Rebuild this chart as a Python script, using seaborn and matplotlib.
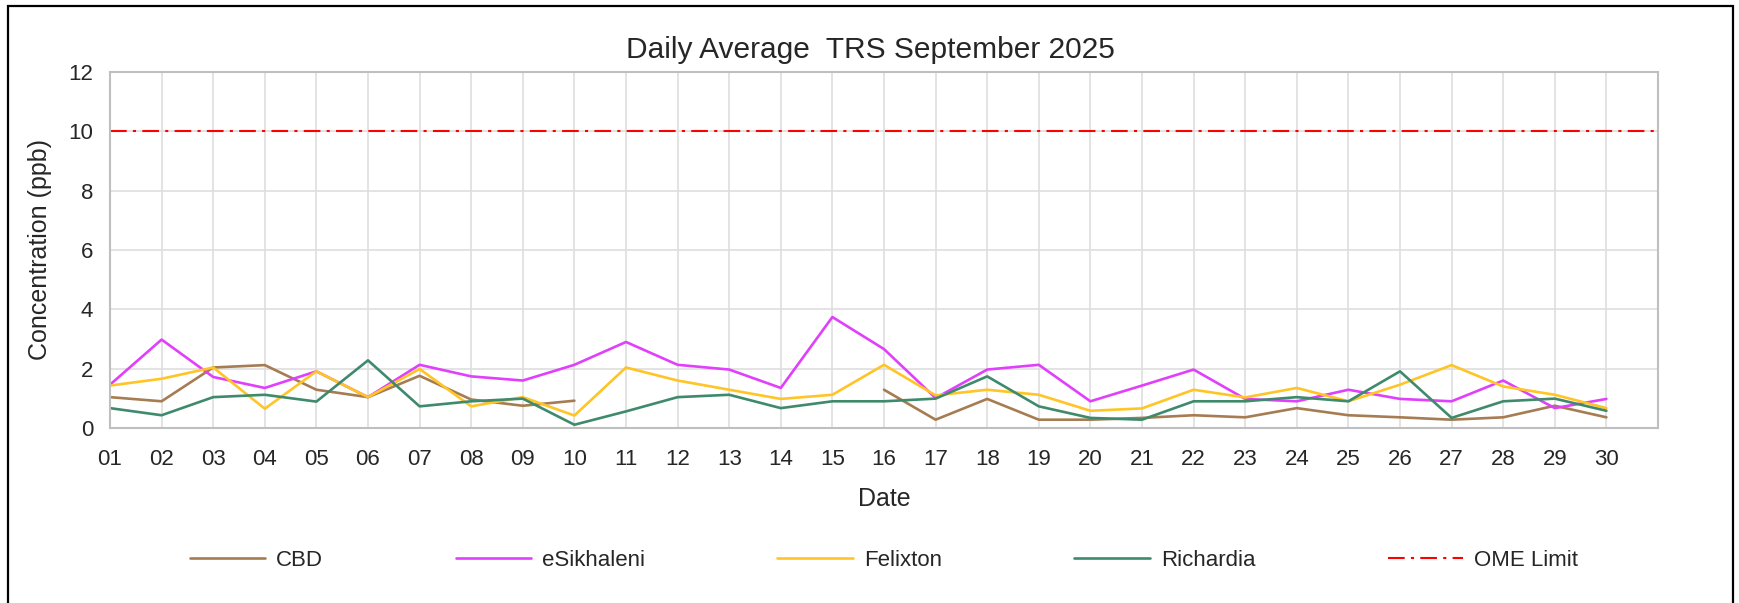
import numpy as np
import pandas as pd
import matplotlib
matplotlib.use("Agg")
import matplotlib.pyplot as plt
import seaborn as sns
from matplotlib.patches import Rectangle

days = [f"{d:02d}" for d in range(1, 31)]
cbd = [1.04, 0.90, 2.04, 2.12, 1.29, 1.04, 1.76, 0.96, 0.75, 0.92,
       np.nan, np.nan, np.nan, np.nan, np.nan, 1.29, 0.28, 0.98, 0.28, 0.28,
       0.34, 0.43, 0.36, 0.67, 0.43, 0.36, 0.28, 0.36, 0.75, 0.36]
esikhaleni = [1.46, 2.98, 1.72, 1.35, 1.91, 1.04, 2.13, 1.74, 1.60, 2.13,
              2.90, 2.13, 1.97, 1.35, 3.74, 2.66, 1.01, 1.97, 2.13, 0.90,
              1.43, 1.97, 0.98, 0.90, 1.29, 0.98, 0.90, 1.60, 0.67, 0.98]
felixton = [1.43, 1.66, 2.04, 0.65, 1.91, 1.04, 1.99, 0.73, 1.04, 0.42,
            2.04, 1.60, 1.29, 0.98, 1.12, 2.13, 1.10, 1.29, 1.12, 0.58,
            0.66, 1.29, 1.03, 1.35, 0.90, 1.46, 2.12, 1.40, 1.12, 0.67]
richardia = [0.67, 0.43, 1.04, 1.12, 0.89, 2.28, 0.73, 0.90, 0.99, 0.11,
             0.56, 1.04, 1.12, 0.67, 0.90, 0.90, 0.99, 1.74, 0.73, 0.34,
             0.28, 0.90, 0.90, 1.04, 0.90, 1.91, 0.34, 0.90, 0.99, 0.58]
ome_limit = 10
series_names = ["CBD", "eSikhaleni", "Felixton", "Richardia"]
colors = {"CBD": "#A67C52", "eSikhaleni": "#E040FB", "Felixton": "#FFC425",
          "Richardia": "#3F8A6C"}

sns.set_theme(style="white")
plt.rcParams["font.family"] = ["Liberation Sans", "DejaVu Sans"]
text_color = "#262626"

W, H = 1739, 603
fig = plt.figure(figsize=(W / 100, H / 100), dpi=100)
fig.patch.set_facecolor("white")
L, R, T, B = 110, 1658, 72, 428
ax = fig.add_axes([L / W, 1 - B / H, (R - L) / W, (B - T) / H])

xs = list(range(1, 31))
for name, vals in zip(series_names, [cbd, esikhaleni, felixton, richardia]):
    df = pd.DataFrame({"x": xs, "y": vals})
    # break the line where data is missing (segment id increments at gaps)
    df["seg"] = df["y"].isna().cumsum()
    df = df.dropna()
    sns.lineplot(data=df, x="x", y="y", units="seg", ax=ax,
                 color=colors[name], lw=1.9, estimator=None, sort=False)
    ax.plot([], [], color=colors[name], lw=1.9, label=name)
ax.axhline(ome_limit, color="#FF0000", lw=1.5, dashes=(8, 3, 1.5, 3),
           label="OME Limit")

ax.set_xlim(1, 31)
ax.set_ylim(0, 12)
ax.set_xticks(xs)
ax.set_xticklabels(days)
ax.set_yticks(range(0, 13, 2))
ax.grid(True, color="#DEDEDE", lw=1.2)
ax.set_axisbelow(True)
for s in ax.spines.values():
    s.set_color("#BFBFBF")
    s.set_linewidth(1.5)
ax.tick_params(axis="both", length=0, labelsize=16, colors=text_color)
ax.tick_params(axis="x", pad=15)
ax.tick_params(axis="y", pad=12)
ax.set_xlabel("Date", fontsize=18, color=text_color, labelpad=12)
ax.set_ylabel("Concentration (ppb)", fontsize=18, color=text_color, labelpad=12)
ax.set_title("Daily Average  TRS September 2025", fontsize=21.5,
             color=text_color, pad=10, x=(870 - L) / (R - L))

leg = ax.legend(loc="center", bbox_to_anchor=(0.5, (B - 560) / (B - T)),
                ncol=5, frameon=False, fontsize=16, handlelength=3.4,
                handletextpad=0.5, columnspacing=5.95)
for t in leg.get_texts():
    t.set_color(text_color)

fig.add_artist(Rectangle((8 / W, -0.05), (1733 - 8) / W, 1.05 - 6 / H,
                         transform=fig.transFigure, fill=False,
                         edgecolor="black", lw=1.6))

fig.savefig("out.png", dpi=100)
